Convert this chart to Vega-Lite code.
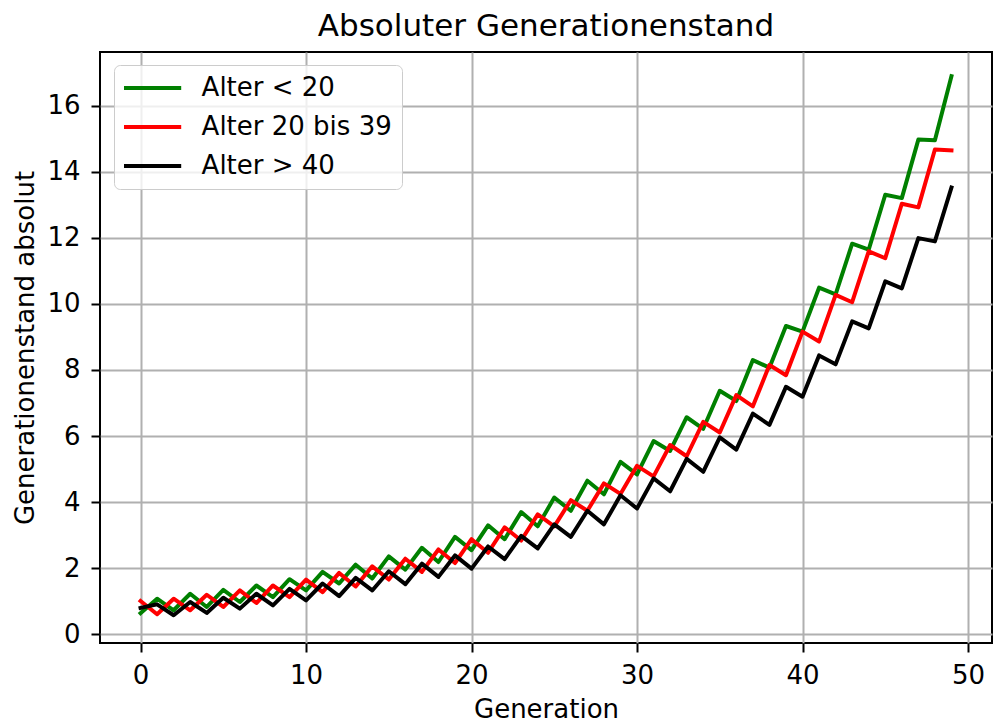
{
  "$schema": "https://vega.github.io/schema/vega-lite/v6.json",
  "width": 892,
  "height": 591,
  "autosize": {"type": "none"},
  "padding": {"left": 100, "top": 52, "right": 2, "bottom": 79},
  "background": "white",
  "config": {
    "font": "DejaVu Sans",
    "view": {"stroke": "black", "strokeWidth": 2}
  },
  "title": {
    "text": "Absoluter Generationenstand",
    "fontSize": 31,
    "fontWeight": "normal",
    "color": "black",
    "anchor": "middle",
    "baseline": "alphabetic",
    "offset": -15
  },
  "data": {
    "values": [
      {"g":0,"v":0.64,"s":"Alter < 20"},{"g":1,"v":1.08,"s":"Alter < 20"},{"g":2,"v":0.73,"s":"Alter < 20"},{"g":3,"v":1.23,"s":"Alter < 20"},{"g":4,"v":0.83,"s":"Alter < 20"},
      {"g":5,"v":1.35,"s":"Alter < 20"},{"g":6,"v":0.98,"s":"Alter < 20"},{"g":7,"v":1.48,"s":"Alter < 20"},{"g":8,"v":1.13,"s":"Alter < 20"},{"g":9,"v":1.67,"s":"Alter < 20"},
      {"g":10,"v":1.33,"s":"Alter < 20"},{"g":11,"v":1.89,"s":"Alter < 20"},{"g":12,"v":1.54,"s":"Alter < 20"},{"g":13,"v":2.11,"s":"Alter < 20"},{"g":14,"v":1.69,"s":"Alter < 20"},
      {"g":15,"v":2.36,"s":"Alter < 20"},{"g":16,"v":1.96,"s":"Alter < 20"},{"g":17,"v":2.62,"s":"Alter < 20"},{"g":18,"v":2.19,"s":"Alter < 20"},{"g":19,"v":2.95,"s":"Alter < 20"},
      {"g":20,"v":2.55,"s":"Alter < 20"},{"g":21,"v":3.30,"s":"Alter < 20"},{"g":22,"v":2.88,"s":"Alter < 20"},{"g":23,"v":3.70,"s":"Alter < 20"},{"g":24,"v":3.27,"s":"Alter < 20"},
      {"g":25,"v":4.14,"s":"Alter < 20"},{"g":26,"v":3.74,"s":"Alter < 20"},{"g":27,"v":4.65,"s":"Alter < 20"},{"g":28,"v":4.24,"s":"Alter < 20"},{"g":29,"v":5.22,"s":"Alter < 20"},
      {"g":30,"v":4.84,"s":"Alter < 20"},{"g":31,"v":5.85,"s":"Alter < 20"},{"g":32,"v":5.55,"s":"Alter < 20"},{"g":33,"v":6.57,"s":"Alter < 20"},{"g":34,"v":6.22,"s":"Alter < 20"},
      {"g":35,"v":7.37,"s":"Alter < 20"},{"g":36,"v":7.06,"s":"Alter < 20"},{"g":37,"v":8.30,"s":"Alter < 20"},{"g":38,"v":8.07,"s":"Alter < 20"},{"g":39,"v":9.33,"s":"Alter < 20"},
      {"g":40,"v":9.16,"s":"Alter < 20"},{"g":41,"v":10.49,"s":"Alter < 20"},{"g":42,"v":10.29,"s":"Alter < 20"},{"g":43,"v":11.82,"s":"Alter < 20"},{"g":44,"v":11.64,"s":"Alter < 20"},
      {"g":45,"v":13.30,"s":"Alter < 20"},{"g":46,"v":13.20,"s":"Alter < 20"},{"g":47,"v":14.97,"s":"Alter < 20"},{"g":48,"v":14.95,"s":"Alter < 20"},{"g":49,"v":16.89,"s":"Alter < 20"},

      {"g":0,"v":1.01,"s":"Alter 20 bis 39"},{"g":1,"v":0.61,"s":"Alter 20 bis 39"},{"g":2,"v":1.08,"s":"Alter 20 bis 39"},{"g":3,"v":0.73,"s":"Alter 20 bis 39"},{"g":4,"v":1.20,"s":"Alter 20 bis 39"},
      {"g":5,"v":0.83,"s":"Alter 20 bis 39"},{"g":6,"v":1.33,"s":"Alter 20 bis 39"},{"g":7,"v":0.95,"s":"Alter 20 bis 39"},{"g":8,"v":1.48,"s":"Alter 20 bis 39"},{"g":9,"v":1.13,"s":"Alter 20 bis 39"},
      {"g":10,"v":1.66,"s":"Alter 20 bis 39"},{"g":11,"v":1.28,"s":"Alter 20 bis 39"},{"g":12,"v":1.86,"s":"Alter 20 bis 39"},{"g":13,"v":1.45,"s":"Alter 20 bis 39"},{"g":14,"v":2.06,"s":"Alter 20 bis 39"},
      {"g":15,"v":1.66,"s":"Alter 20 bis 39"},{"g":16,"v":2.29,"s":"Alter 20 bis 39"},{"g":17,"v":1.89,"s":"Alter 20 bis 39"},{"g":18,"v":2.57,"s":"Alter 20 bis 39"},{"g":19,"v":2.16,"s":"Alter 20 bis 39"},
      {"g":20,"v":2.88,"s":"Alter 20 bis 39"},{"g":21,"v":2.47,"s":"Alter 20 bis 39"},{"g":22,"v":3.24,"s":"Alter 20 bis 39"},{"g":23,"v":2.84,"s":"Alter 20 bis 39"},{"g":24,"v":3.63,"s":"Alter 20 bis 39"},
      {"g":25,"v":3.27,"s":"Alter 20 bis 39"},{"g":26,"v":4.06,"s":"Alter 20 bis 39"},{"g":27,"v":3.74,"s":"Alter 20 bis 39"},{"g":28,"v":4.57,"s":"Alter 20 bis 39"},{"g":29,"v":4.25,"s":"Alter 20 bis 39"},
      {"g":30,"v":5.10,"s":"Alter 20 bis 39"},{"g":31,"v":4.78,"s":"Alter 20 bis 39"},{"g":32,"v":5.73,"s":"Alter 20 bis 39"},{"g":33,"v":5.39,"s":"Alter 20 bis 39"},{"g":34,"v":6.43,"s":"Alter 20 bis 39"},
      {"g":35,"v":6.11,"s":"Alter 20 bis 39"},{"g":36,"v":7.24,"s":"Alter 20 bis 39"},{"g":37,"v":6.90,"s":"Alter 20 bis 39"},{"g":38,"v":8.15,"s":"Alter 20 bis 39"},{"g":39,"v":7.84,"s":"Alter 20 bis 39"},
      {"g":40,"v":9.16,"s":"Alter 20 bis 39"},{"g":41,"v":8.86,"s":"Alter 20 bis 39"},{"g":42,"v":10.27,"s":"Alter 20 bis 39"},{"g":43,"v":10.05,"s":"Alter 20 bis 39"},{"g":44,"v":11.59,"s":"Alter 20 bis 39"},
      {"g":45,"v":11.38,"s":"Alter 20 bis 39"},{"g":46,"v":13.03,"s":"Alter 20 bis 39"},{"g":47,"v":12.92,"s":"Alter 20 bis 39"},{"g":48,"v":14.67,"s":"Alter 20 bis 39"},{"g":49,"v":14.64,"s":"Alter 20 bis 39"},

      {"g":0,"v":0.80,"s":"Alter > 40"},{"g":1,"v":0.91,"s":"Alter > 40"},{"g":2,"v":0.58,"s":"Alter > 40"},{"g":3,"v":0.98,"s":"Alter > 40"},{"g":4,"v":0.65,"s":"Alter > 40"},
      {"g":5,"v":1.11,"s":"Alter > 40"},{"g":6,"v":0.78,"s":"Alter > 40"},{"g":7,"v":1.23,"s":"Alter > 40"},{"g":8,"v":0.88,"s":"Alter > 40"},{"g":9,"v":1.38,"s":"Alter > 40"},
      {"g":10,"v":1.03,"s":"Alter > 40"},{"g":11,"v":1.54,"s":"Alter > 40"},{"g":12,"v":1.16,"s":"Alter > 40"},{"g":13,"v":1.71,"s":"Alter > 40"},{"g":14,"v":1.33,"s":"Alter > 40"},
      {"g":15,"v":1.91,"s":"Alter > 40"},{"g":16,"v":1.52,"s":"Alter > 40"},{"g":17,"v":2.14,"s":"Alter > 40"},{"g":18,"v":1.74,"s":"Alter > 40"},{"g":19,"v":2.39,"s":"Alter > 40"},
      {"g":20,"v":1.99,"s":"Alter > 40"},{"g":21,"v":2.66,"s":"Alter > 40"},{"g":22,"v":2.28,"s":"Alter > 40"},{"g":23,"v":2.98,"s":"Alter > 40"},{"g":24,"v":2.60,"s":"Alter > 40"},
      {"g":25,"v":3.33,"s":"Alter > 40"},{"g":26,"v":2.95,"s":"Alter > 40"},{"g":27,"v":3.74,"s":"Alter > 40"},{"g":28,"v":3.33,"s":"Alter > 40"},{"g":29,"v":4.21,"s":"Alter > 40"},
      {"g":30,"v":3.81,"s":"Alter > 40"},{"g":31,"v":4.72,"s":"Alter > 40"},{"g":32,"v":4.33,"s":"Alter > 40"},{"g":33,"v":5.31,"s":"Alter > 40"},{"g":34,"v":4.92,"s":"Alter > 40"},
      {"g":35,"v":5.96,"s":"Alter > 40"},{"g":36,"v":5.59,"s":"Alter > 40"},{"g":37,"v":6.68,"s":"Alter > 40"},{"g":38,"v":6.34,"s":"Alter > 40"},{"g":39,"v":7.49,"s":"Alter > 40"},
      {"g":40,"v":7.19,"s":"Alter > 40"},{"g":41,"v":8.44,"s":"Alter > 40"},{"g":42,"v":8.17,"s":"Alter > 40"},{"g":43,"v":9.47,"s":"Alter > 40"},{"g":44,"v":9.26,"s":"Alter > 40"},
      {"g":45,"v":10.68,"s":"Alter > 40"},{"g":46,"v":10.47,"s":"Alter > 40"},{"g":47,"v":11.99,"s":"Alter > 40"},{"g":48,"v":11.89,"s":"Alter > 40"},{"g":49,"v":13.52,"s":"Alter > 40"}
    ]
  },
  "mark": {"type": "line", "strokeWidth": 4, "strokeJoin": "round", "strokeCap": "square"},
  "encoding": {
    "x": {
      "field": "g",
      "type": "quantitative",
      "scale": {"domain": [-2.45, 51.45], "nice": false, "zero": false},
      "axis": {
        "title": "Generation",
        "values": [0, 10, 20, 30, 40, 50],
        "format": "d",
        "domain": false,
        "grid": true,
        "gridColor": "#b0b0b0",
        "gridWidth": 2,
        "gridOpacity": 1,
        "ticks": true,
        "tickColor": "black",
        "tickWidth": 2,
        "tickSize": 9,
        "labelFontSize": 26,
        "labelColor": "black",
        "labelPadding": 31,
        "labelBaseline": "alphabetic",
        "labelFlush": false,
        "labelOverlap": false,
        "titleFontSize": 26,
        "titleFontWeight": "normal",
        "titleColor": "black",
        "titleX": 446,
        "titleY": 74,
        "titleAlign": "center",
        "titleBaseline": "alphabetic"
      }
    },
    "y": {
      "field": "v",
      "type": "quantitative",
      "scale": {"domain": [-0.26, 17.62], "nice": false, "zero": false},
      "axis": {
        "title": "Generationenstand absolut",
        "values": [0, 2, 4, 6, 8, 10, 12, 14, 16],
        "format": "d",
        "domain": false,
        "grid": true,
        "gridColor": "#b0b0b0",
        "gridWidth": 2,
        "gridOpacity": 1,
        "ticks": true,
        "tickColor": "black",
        "tickWidth": 2,
        "tickSize": 9,
        "labelFontSize": 26,
        "labelColor": "black",
        "labelPadding": 11,
        "labelFlush": false,
        "labelOverlap": false,
        "titleFontSize": 26,
        "titleFontWeight": "normal",
        "titleColor": "black",
        "titleAngle": 270,
        "titleX": -67,
        "titleY": 295.5,
        "titleAlign": "center",
        "titleBaseline": "alphabetic"
      }
    },
    "color": {
      "field": "s",
      "type": "nominal",
      "scale": {
        "domain": ["Alter < 20", "Alter 20 bis 39", "Alter > 40"],
        "range": ["#008000", "#ff0000", "#000000"]
      },
      "legend": {
        "title": null,
        "orient": "none",
        "legendX": 14,
        "legendY": 13,
        "symbolType": "M-2.6,0H2.6",
        "symbolSize": 484,
        "symbolStrokeWidth": 4,
        "symbolOffset": 15.6,
        "labelOffset": 36,
        "labelFontSize": 26,
        "labelColor": "black",
        "labelLimit": 0,
        "rowPadding": 13,
        "padding": 10,
        "strokeColor": "#cccccc",
        "fillColor": "rgba(255,255,255,0.8)",
        "cornerRadius": 6
      }
    }
  }
}
